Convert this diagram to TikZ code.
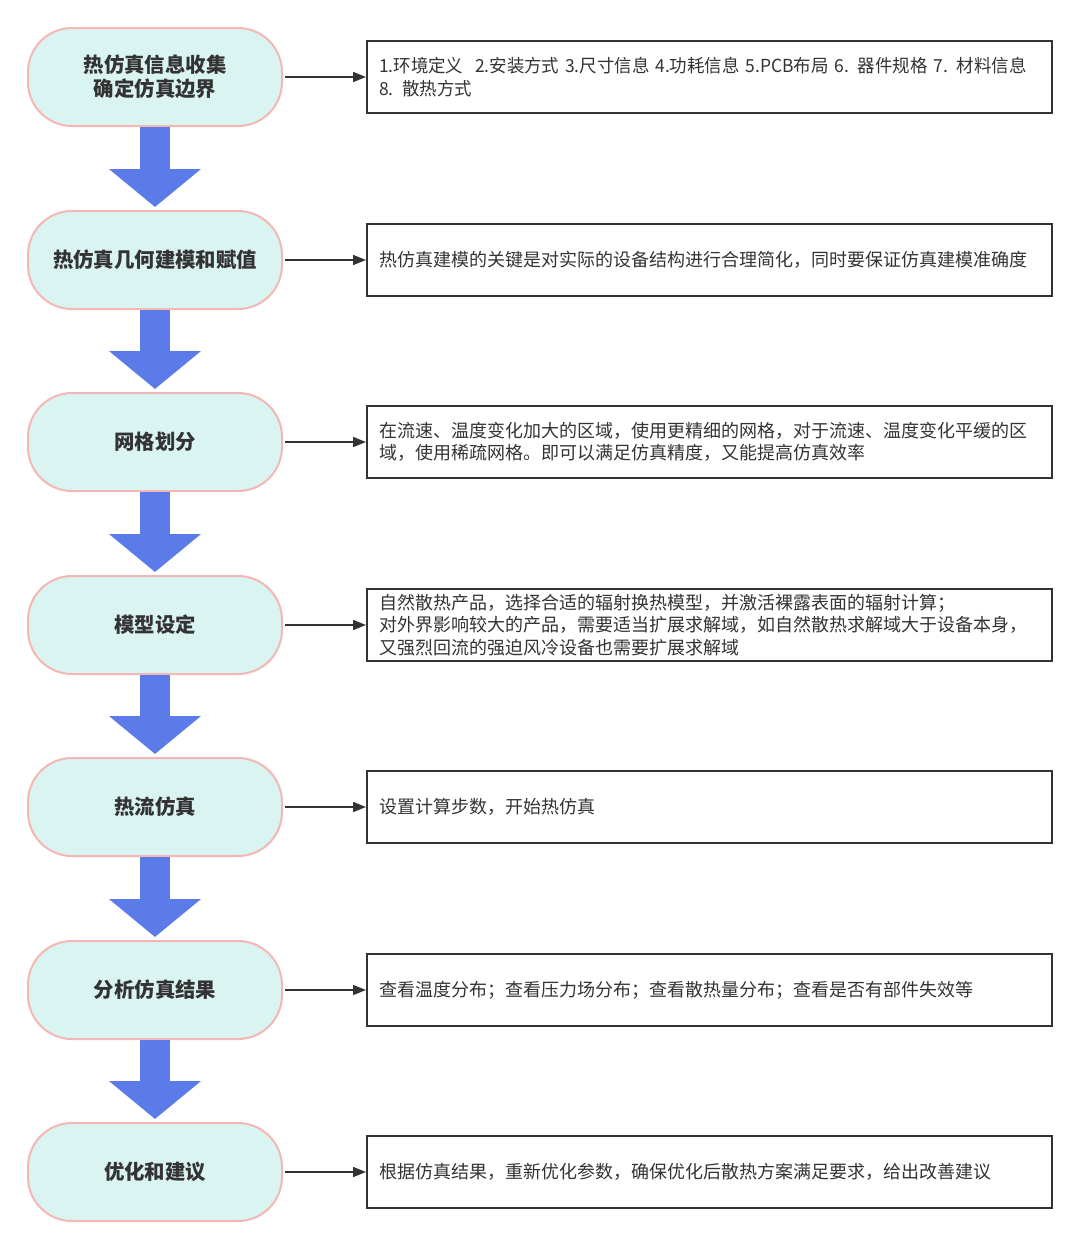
\documentclass[tikz,border=0pt]{standalone}
\usepackage{fontspec}
\setmainfont{Noto Sans CJK SC}
\usetikzlibrary{arrows.meta}
\definecolor{stepFill}{HTML}{DAF4F2}
\definecolor{stepLine}{HTML}{F4B7B3}
\definecolor{flowBlue}{HTML}{5B7BE9}
\definecolor{textDark}{HTML}{333333}

\begin{document}
\begin{tikzpicture}[x=1pt,y=-1pt,
  stepnode/.style={draw=stepLine,line width=2pt,fill=stepFill,rounded corners=44pt,
    minimum width=254pt,minimum height=98pt,align=center,text=textDark,
    font=\fontsize{20.4}{24}\selectfont\bfseries},
  notebox/.style={draw=textDark,line width=2pt,minimum width=685pt,minimum height=72pt,
    anchor=west,align=left,text width=661pt,text=textDark,
    font=\fontsize{18}{22.5}\selectfont},
  bigflow/.style={flowBlue,line width=30pt,-{Triangle[width=90pt,length=38pt]},shorten >=3pt},
  link/.style={textDark,line width=1.6pt,-{Triangle[width=10pt,length=13pt]},shorten <=2pt}]
\useasboundingbox (0,0) rectangle (1080,1250);
% steps
\node[stepnode] (collect) at (155,77) {热仿真信息收集\\确定仿真边界};
\node[stepnode] (geometry) at (155,260) {热仿真几何建模和赋值};
\node[stepnode] (mesh) at (155,442) {网格划分};
\node[stepnode] (model) at (155,625) {模型设定};
\node[stepnode] (solve) at (155,807) {热流仿真};
\node[stepnode] (analyse) at (155,990) {分析仿真结果};
\node[stepnode] (optimise) at (155,1172) {优化和建议};
% notes
\node[notebox] (collectnote) at (366,77)
 {\scalebox{0.97}[1]{1.环境定义\ \ 2.安装方式 3.尺寸信息 4.功耗信息 5.PCB布局 6. 器件规格 7. 材料信息}\\\scalebox{0.97}[1]{8. 散热方式}};
\node[notebox] (geometrynote) at (366,260)
 {热仿真建模的关键是对实际的设备结构进行合理简化，同时要保证仿真建模准确度};
\node[notebox] (meshnote) at (366,442)
 {在流速、温度变化加大的区域，使用更精细的网格，对于流速、温度变化平缓的区\\域，使用稀疏网格。即可以满足仿真精度，又能提高仿真效率};
\node[notebox] (modelnote) at (366,625)
 {自然散热产品，选择合适的辐射换热模型，并激活裸露表面的辐射计算；\\对外界影响较大的产品，需要适当扩展求解域，如自然散热求解域大于设备本身，\\又强烈回流的强迫风冷设备也需要扩展求解域};
\node[notebox] (solvenote) at (366,807) {设置计算步数，开始热仿真};
\node[notebox] (analysenote) at (366,990)
 {查看温度分布；查看压力场分布；查看散热量分布；查看是否有部件失效等};
\node[notebox] (optimisenote) at (366,1172)
 {根据仿真结果，重新优化参数，确保优化后散热方案满足要求，给出改善建议};
% flow
\draw[bigflow] (collect.south) -- (geometry.north);
\draw[bigflow] (geometry.south) -- (mesh.north);
\draw[bigflow] (mesh.south) -- (model.north);
\draw[bigflow] (model.south) -- (solve.north);
\draw[bigflow] (solve.south) -- (analyse.north);
\draw[bigflow] (analyse.south) -- (optimise.north);
% links to notes
\draw[link] (collect) -- (collectnote);
\draw[link] (geometry) -- (geometrynote);
\draw[link] (mesh) -- (meshnote);
\draw[link] (model) -- (modelnote);
\draw[link] (solve) -- (solvenote);
\draw[link] (analyse) -- (analysenote);
\draw[link] (optimise) -- (optimisenote);
\end{tikzpicture}
\end{document}
